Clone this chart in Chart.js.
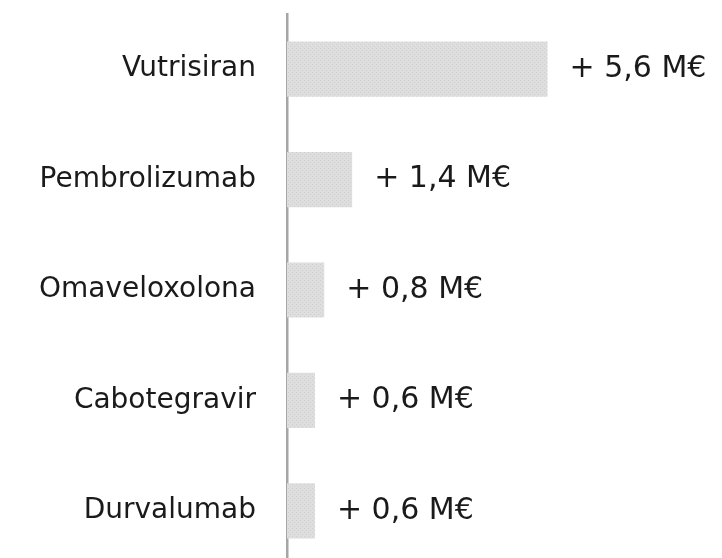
<!DOCTYPE html>
<html>
<head>
<meta charset="utf-8">
<script src="https://cdn.jsdelivr.net/npm/chart.js@4"></script>
<style>
  html, body { margin: 0; padding: 0; background: #fff; overflow: hidden; }
  #wrap { width: 722px; height: 558px; overflow: hidden; position: relative; }
  #box { width: 722px; height: 566px; position: absolute; left: 0; top: 0; }
</style>
</head>
<body>
<div id="wrap"><div id="box"><canvas id="chart"></canvas></div></div>
<script>
const drugs = ['Vutrisiran', 'Pembrolizumab', 'Omaveloxolona', 'Cabotegravir', 'Durvalumab'];
const increase = [5.6, 1.4, 0.8, 0.6, 0.6];

// dotted grey texture like the original fill
function dotPattern() {
    const c = document.createElement('canvas');
    c.width = 4; c.height = 4;
    const g = c.getContext('2d');
    g.fillStyle = '#dedede';
    g.fillRect(0, 0, 4, 4);
    g.fillStyle = '#cfcfcf';
    g.fillRect(0, 0, 1, 1);
    g.fillRect(2, 2, 1, 1);
    return g.createPattern(c, 'repeat');
}

const valueLabels = {
    id: 'valueLabels',
    afterDatasetsDraw(chart) {
        const ctx = chart.ctx;
        const meta = chart.getDatasetMeta(0);
        ctx.save();
        ctx.font = '30px "DejaVu Sans"';
        ctx.fillStyle = '#1a1a1a';
        ctx.textAlign = 'left';
        ctx.textBaseline = 'middle';
        meta.data.forEach((bar, i) => {
            const txt = '+ ' + increase[i].toFixed(1).replace('.', ',') + ' M€';
            ctx.fillText(txt, bar.x + 22, bar.y);
        });
        ctx.restore();
    }
};

new Chart(document.getElementById('chart').getContext('2d'), {
    type: 'bar',
    data: {
        labels: drugs,
        datasets: [{
            data: increase,
            backgroundColor: dotPattern(),
            borderWidth: 0,
            categoryPercentage: 1,
            barPercentage: 0.5
        }]
    },
    options: {
        indexAxis: 'y',
        responsive: true,
        maintainAspectRatio: false,
        animation: false,
        layout: { padding: { top: 14, right: 0, bottom: 0, left: 0 } },
        plugins: { legend: { display: false }, tooltip: { enabled: false } },
        scales: {
            x: { display: false, min: 0, max: 9.35 },
            y: {
                afterFit(scale) {
                    scale.width = 287;
                    scale.paddingTop = 0;
                    scale.paddingBottom = 0;
                },
                grid: { drawOnChartArea: false, drawTicks: false },
                border: { display: true, color: '#a6a6a6', width: 2.5 },
                ticks: {
                    padding: 31,
                    color: '#1a1a1a',
                    font: { family: '"DejaVu Sans"', size: 28 }
                }
            }
        }
    },
    plugins: [valueLabels]
});
</script>
</body>
</html>
